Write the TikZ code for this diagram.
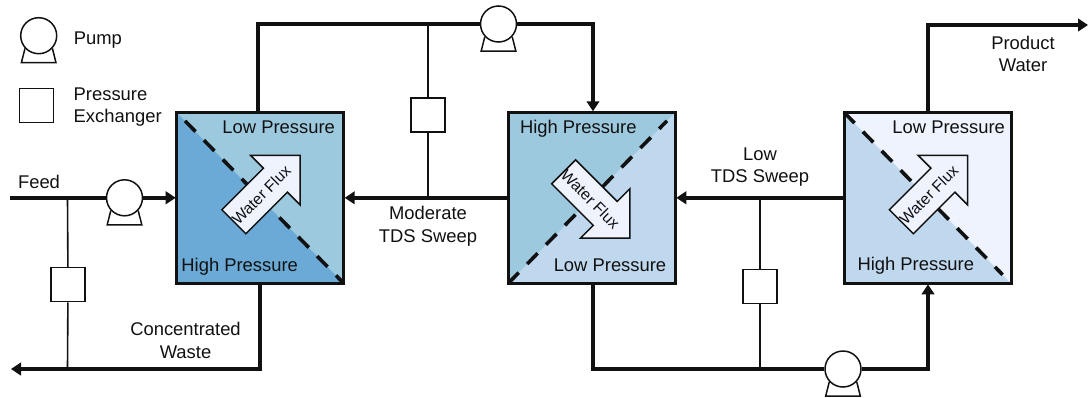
\documentclass[tikz,border=0pt]{standalone}
\usepackage{fontspec}
\setmainfont{Liberation Sans}
\usetikzlibrary{arrows.meta,shapes.arrows}
\definecolor{deepblue}{HTML}{6BAAD6}
\definecolor{tealblue}{HTML}{9DC9DF}
\definecolor{softblue}{HTML}{C0D8EE}
\definecolor{paleblue}{HTML}{EEF3FE}
\definecolor{ink}{HTML}{111111}
\tikzset{
    module/.style={minimum width=167pt,minimum height=171pt,inner sep=0pt,outer sep=0pt},
    wall/.style={draw=ink,line width=3pt},
    membrane/.style={draw=ink,line width=3.6pt,dash pattern=on 15pt off 12pt},
    pipe/.style={draw=ink,line width=3.4pt},
    feedarrow/.style={pipe,-{Triangle[length=10pt,width=12.5pt]},shorten >=1pt},
    tap/.style={draw=ink,line width=1.6pt},
    pump/.style={circle,draw=ink,line width=1.5pt,fill=white,minimum size=36pt,inner sep=0pt},
    exchanger/.style={rectangle,draw=ink,line width=1.5pt,fill=white,minimum size=34pt,inner sep=0pt},
    flux/.style={single arrow,draw=ink,line width=1.5pt,fill=paleblue,minimum height=93pt,
        single arrow head extend=18pt,inner xsep=0pt,inner ysep=10.2pt,text height=12pt,text depth=0pt,
        font=\fontsize{15.7}{18}\selectfont,text=ink},
    label/.style={text=ink,font=\fontsize{18.4}{22.5}\selectfont,align=center,inner sep=0pt},
}
\newcommand{\pumpstand}[1]{
    \draw[draw=ink,line width=1.5pt] ([shift={(-13.7,12.7)}]#1.center) -- ([shift={(-17.3,27)}]#1.center)
        -- ([shift={(17.3,27)}]#1.center) -- ([shift={(13.7,12.7)}]#1.center);
}
\begin{document}
\begin{tikzpicture}[x=1pt,y=-1pt]
    \useasboundingbox (0,0) rectangle (1089,397);
    \node[module,fill=deepblue] (M1) at (260.2,197.8) {};
    \node[module,fill=softblue] (M2) at (591.8,197.8) {};
    \node[module,fill=softblue] (M3) at (927.5,197.8) {};
    \fill[tealblue] (M1.north west) -- (M1.north east) -- (M1.south east) -- cycle;
    \fill[tealblue] (M2.north west) -- (M2.north east) -- (M2.south west) -- cycle;
    \fill[paleblue] (M3.north west) -- (M3.north east) -- (M3.south east) -- cycle;
    \draw[membrane,shorten <=12pt] (M1.north west) -- (M1.south east);
    \draw[membrane,shorten >=12pt] (M2.south west) -- (M2.north east);
    \draw[membrane,shorten >=12pt] (M3.north west) -- (M3.south east);
    \draw[wall] (M1.north west) rectangle (M1.south east);
    \draw[wall] (M2.north west) rectangle (M2.south east);
    \draw[wall] (M3.north west) rectangle (M3.south east);
    \node[flux,rotate=45] (F1) at (261,194.6) {Water Flux};
    \node[flux,rotate=-45] (F2) at (590.8,199) {Water Flux};
    \node[flux,rotate=45] (F3) at (928.5,194.6) {Water Flux};
    \draw (10,197.8) coordinate (FeedIn);
    \draw (67.5,197.8) coordinate (FeedTap);
    \draw (10,369) coordinate (WasteOut);
    \draw (67.5,369) coordinate (WasteTap);
    \draw (260,283.3) coordinate (WasteA);
    \draw (260,369) coordinate (WasteB);
    \draw (258,112.3) coordinate (TopA);
    \draw (258,24) coordinate (TopB);
    \draw (593,24) coordinate (TopC);
    \draw (593,112.3) coordinate (TopD);
    \draw (428,24) coordinate (TopTap);
    \draw (428,197.8) coordinate (MidTap);
    \draw (760,197.8) coordinate (LowTap);
    \draw (760,369) coordinate (BotTap);
    \draw (593,283.3) coordinate (BotA);
    \draw (593,369) coordinate (BotB);
    \draw (928,369) coordinate (BotC);
    \draw (928,283.3) coordinate (BotD);
    \draw (928,112.3) coordinate (OutA);
    \draw (928,25) coordinate (OutB);
    \draw (1089,25) coordinate (OutC);
    \node[exchanger] (X1) at (68,284.5) {};
    \node[exchanger] (X2) at (428,115) {};
    \node[exchanger] (X3) at (760,286.5) {};
    \draw[tap] (FeedTap) -- (X1) -- (WasteTap);
    \draw[tap] (TopTap) -- (X2) -- (MidTap);
    \draw[tap] (LowTap) -- (X3) -- (BotTap);
    \node[pump] (P1) at (124.5,197.8) {};
    \pumpstand{P1}
    \node[pump] (P2) at (498.5,24) {};
    \pumpstand{P2}
    \node[pump] (P3) at (843,369) {};
    \pumpstand{P3}
    \draw[pipe] (FeedIn) -- (P1);
    \draw[feedarrow] (P1) -- (M1);
    \draw[pipe] (TopA) -- (TopB) -- (P2);
    \draw[feedarrow] (P2) -- (TopC) -- (TopD);
    \draw[feedarrow] (M2) -- (M1);
    \draw[feedarrow] (M3) -- (M2);
    \draw[pipe] (BotA) -- (BotB) -- (P3);
    \draw[feedarrow] (P3) -- (BotC) -- (BotD);
    \draw[feedarrow] (WasteA) -- (WasteB) -- (WasteOut);
    \draw[feedarrow] (OutA) -- (OutB) -- (OutC);
    \node[pump] (LP) at (38.7,35.7) {};
    \pumpstand{LP}
    \node[exchanger] (LX) at (36.5,105.5) {};
    \node[label,anchor=west] (LPtext) at (73.7,40) {Pump};
    \node[label,anchor=west,align=left] (LXtext) at (73.5,107) {Pressure\\Exchanger};
    \node[label] (T1) at (278.7,127.5) {Low Pressure};
    \node[label] (T2) at (239.7,266.5) {High Pressure};
    \node[label] (T3) at (578.3,128.5) {High Pressure};
    \node[label] (T4) at (610,265) {Low Pressure};
    \node[label] (T5) at (948.7,127.5) {Low Pressure};
    \node[label] (T6) at (915.8,266) {High Pressure};
    \node[label] (T7) at (39,182) {Feed};
    \node[label] (T8) at (185.5,340.5) {Concentrated\\Waste};
    \node[label] (T9) at (428,226) {Moderate\\TDS Sweep};
    \node[label] (T10) at (760,167) {Low\\TDS Sweep};
    \node[label] (T11) at (1023,54) {Product\\Water};
\end{tikzpicture}
\end{document}
